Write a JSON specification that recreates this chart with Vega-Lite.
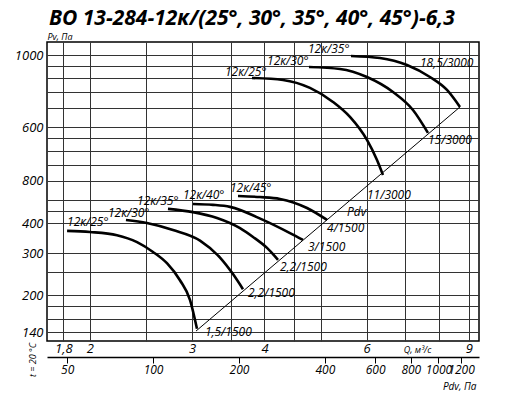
{
  "$schema": "https://vega.github.io/schema/vega-lite/v6.json",
  "width": 432,
  "height": 299,
  "autosize": {"type": "none"},
  "padding": {"left": 47, "top": 42, "right": 43, "bottom": 65},
  "background": "white",
  "title": {
    "text": "ВО 13-284-12к/(25°, 30°, 35°, 40°, 45°)-6,3",
    "anchor": "start", "frame": "group", "font": "Open Sans", "fontSize": 21,
    "fontWeight": "bold", "fontStyle": "italic", "color": "black",
    "baseline": "bottom", "offset": 0, "dx": 2, "dy": 18
  },
  "config": {
    "view": {"stroke": "black", "strokeWidth": 1.5},
    "axis": {
      "labelFont": "Open Sans", "labelFontStyle": "italic", "labelColor": "black",
      "titleFont": "Open Sans", "titleFontStyle": "italic", "titleFontWeight": "normal", "titleColor": "black"
    }
  },
  "datasets": {
    "curves": [
      {"s": "25a", "Q": 1.827, "Pv": 371}, {"s": "25a", "Q": 2.001, "Pv": 367}, {"s": "25a", "Q": 2.227, "Pv": 356},
      {"s": "25a", "Q": 2.412, "Pv": 333}, {"s": "25a", "Q": 2.570, "Pv": 303}, {"s": "25a", "Q": 2.716, "Pv": 272},
      {"s": "25a", "Q": 2.860, "Pv": 231}, {"s": "25a", "Q": 2.977, "Pv": 191}, {"s": "25a", "Q": 3.060, "Pv": 145},
      {"s": "30a", "Q": 2.308, "Pv": 412}, {"s": "30a", "Q": 2.508, "Pv": 400}, {"s": "30a", "Q": 2.782, "Pv": 374},
      {"s": "30a", "Q": 3.097, "Pv": 338}, {"s": "30a", "Q": 3.353, "Pv": 287}, {"s": "30a", "Q": 3.530, "Pv": 245},
      {"s": "30a", "Q": 3.673, "Pv": 212},
      {"s": "35a", "Q": 2.727, "Pv": 458}, {"s": "35a", "Q": 3.012, "Pv": 444}, {"s": "35a", "Q": 3.313, "Pv": 420},
      {"s": "35a", "Q": 3.630, "Pv": 381}, {"s": "35a", "Q": 3.823, "Pv": 350}, {"s": "35a", "Q": 4.041, "Pv": 315},
      {"s": "35a", "Q": 4.221, "Pv": 281},
      {"s": "40a", "Q": 3.012, "Pv": 480}, {"s": "40a", "Q": 3.261, "Pv": 476}, {"s": "40a", "Q": 3.488, "Pv": 467},
      {"s": "40a", "Q": 3.977, "Pv": 412}, {"s": "40a", "Q": 4.427, "Pv": 363}, {"s": "40a", "Q": 4.661, "Pv": 340},
      {"s": "45a", "Q": 3.601, "Pv": 518}, {"s": "45a", "Q": 3.929, "Pv": 513}, {"s": "45a", "Q": 4.254, "Pv": 504},
      {"s": "45a", "Q": 4.736, "Pv": 462}, {"s": "45a", "Q": 5.128, "Pv": 412},
      {"s": "25b", "Q": 3.807, "Pv": 1608}, {"s": "25b", "Q": 4.305, "Pv": 1577}, {"s": "25b", "Q": 4.792, "Pv": 1461},
      {"s": "25b", "Q": 5.251, "Pv": 1277}, {"s": "25b", "Q": 5.617, "Pv": 1106}, {"s": "25b", "Q": 6.009, "Pv": 887},
      {"s": "25b", "Q": 6.253, "Pv": 732}, {"s": "25b", "Q": 6.403, "Pv": 634},
      {"s": "30b", "Q": 4.773, "Pv": 1787}, {"s": "30b", "Q": 5.399, "Pv": 1753}, {"s": "30b", "Q": 6.009, "Pv": 1623},
      {"s": "30b", "Q": 6.663, "Pv": 1406}, {"s": "30b", "Q": 7.213, "Pv": 1183}, {"s": "30b", "Q": 7.656, "Pv": 949},
      {"s": "35b", "Q": 5.639, "Pv": 1986}, {"s": "35b", "Q": 6.327, "Pv": 1948}, {"s": "35b", "Q": 7.044, "Pv": 1821},
      {"s": "35b", "Q": 7.716, "Pv": 1623}, {"s": "35b", "Q": 8.256, "Pv": 1433}, {"s": "35b", "Q": 8.693, "Pv": 1217}
    ],
    "diag": [{"Q": 3.048, "Pv": 141.9}, {"Q": 8.693, "Pv": 1217}],
    "labels": [
      {"Q": 1.827, "Pv": 404, "t": "12к/25°"},
      {"Q": 2.149, "Pv": 442, "t": "12к/30°"},
      {"Q": 2.412, "Pv": 496, "t": "12к/35°"},
      {"Q": 2.894, "Pv": 523, "t": "12к/40°"},
      {"Q": 3.488, "Pv": 560, "t": "12к/45°"},
      {"Q": 3.158, "Pv": 140.6, "t": "1,5/1500"},
      {"Q": 3.747, "Pv": 204.4, "t": "2,2/1500"},
      {"Q": 4.254, "Pv": 262, "t": "2,2/1500"},
      {"Q": 4.755, "Pv": 318, "t": "3/1500"},
      {"Q": 5.128, "Pv": 381, "t": "4/1500"},
      {"Q": 5.551, "Pv": 444, "t": "Pdv"},
      {"Q": 6.009, "Pv": 523, "t": "11/3000"},
      {"Q": 7.656, "Pv": 887, "t": "15/3000"},
      {"Q": 7.417, "Pv": 1857, "t": "18,5/3000"},
      {"Q": 3.420, "Pv": 1703, "t": "12к/25°"},
      {"Q": 4.041, "Pv": 1893, "t": "12к/30°"},
      {"Q": 4.755, "Pv": 2124, "t": "12к/35°"}
    ],
    "note": [{"Q": 1.596, "Pv": 107.5, "t": "t = 20 °C"}],
    "pdv": [{"Pdv": 50}, {"Pdv": 1200}]
  },
  "layer": [
    {
      "encoding": {
        "x": {
          "field": "Q", "type": "quantitative",
          "scale": {"type": "log", "domain": [1.687, 9.375], "nice": false, "zero": false},
          "axis": {
            "values": [1.8, 2, 2.5, 3, 3.5, 4, 4.5, 5, 6, 7, 8, 9],
            "labelExpr": "datum.value == 1.8 ? '1,8' : (datum.value == 2 || datum.value == 3 || datum.value == 4 || datum.value == 6 || datum.value == 9) ? datum.label : ''",
            "grid": true, "gridColor": "#333", "gridWidth": 1, "ticks": false, "domain": false,
            "labelFontSize": 13, "labelPadding": 1, "labelFlush": false, "labelOverlap": false, "labelBound": false,
            "title": "Q, м³/с", "titleX": 370, "titleY": 8, "titleFontSize": 9,
            "titleBaseline": "middle", "titleAlign": "center"
          }
        },
        "y": {
          "field": "Pv", "type": "quantitative",
          "scale": {"type": "log", "domain": [129, 2270], "nice": false, "zero": false},
          "axis": {
            "values": [140, 160, 180, 200, 250, 300, 400, 450, 500, 600, 700, 800, 900, 1000, 1200, 1400, 1600, 1800, 2000],
            "labelExpr": "datum.value == 2000 ? '1000' : datum.value == 1000 ? '600' : datum.value == 600 ? '800' : (datum.value == 140 || datum.value == 200 || datum.value == 300 || datum.value == 400) ? datum.label : ''",
            "grid": true, "gridColor": "#333", "gridWidth": 1, "ticks": false, "domain": false,
            "labelFontSize": 13, "labelPadding": 4, "labelOverlap": false, "labelBound": false, "labelFlush": false,
            "title": "Pv, Па", "titleAngle": 0, "titleX": 0, "titleY": -3, "titleAlign": "left",
            "titleBaseline": "alphabetic", "titleFontSize": 9
          }
        }
      },
      "layer": [
        {
          "data": {"name": "curves"},
          "mark": {"type": "line", "color": "black", "strokeWidth": 2.6, "interpolate": "monotone"},
          "encoding": {"detail": {"field": "s"}}
        },
        {
          "data": {"name": "diag"},
          "mark": {"type": "line", "color": "black", "strokeWidth": 1},
          "encoding": {}
        },
        {
          "data": {"name": "labels"},
          "mark": {"type": "text", "align": "left", "baseline": "middle", "font": "Open Sans", "fontStyle": "italic", "fontSize": 12, "color": "black"},
          "encoding": {"text": {"field": "t"}}
        },
        {
          "data": {"name": "note"},
          "mark": {"type": "text", "align": "center", "baseline": "middle", "angle": 270, "font": "Open Sans", "fontStyle": "italic", "fontSize": 9, "color": "black"},
          "encoding": {"text": {"field": "t"}}
        }
      ]
    },
    {
      "data": {"name": "pdv"},
      "mark": {"type": "point", "opacity": 0},
      "encoding": {
        "x": {
          "field": "Pdv", "type": "quantitative",
          "scale": {"type": "log", "domain": [42.5, 1387], "nice": false, "zero": false},
          "axis": {
            "orient": "bottom", "offset": 16,
            "values": [50, 100, 200, 400, 600, 800, 1000, 1200],
            "format": "d",
            "domain": true, "domainColor": "black", "domainWidth": 1.5,
            "ticks": true, "tickSize": 6, "tickColor": "black", "tickWidth": 1, "grid": false,
            "labelFontSize": 12, "labelPadding": 1, "labelOverlap": false, "labelFlush": false, "labelBound": false,
            "title": "Pdv, Па", "titleX": 429, "titleY": 29, "titleAlign": "right", "titleFontSize": 10,
            "titleBaseline": "middle"
          }
        }
      }
    }
  ],
  "resolve": {"scale": {"x": "independent"}, "axis": {"x": "independent"}}
}
